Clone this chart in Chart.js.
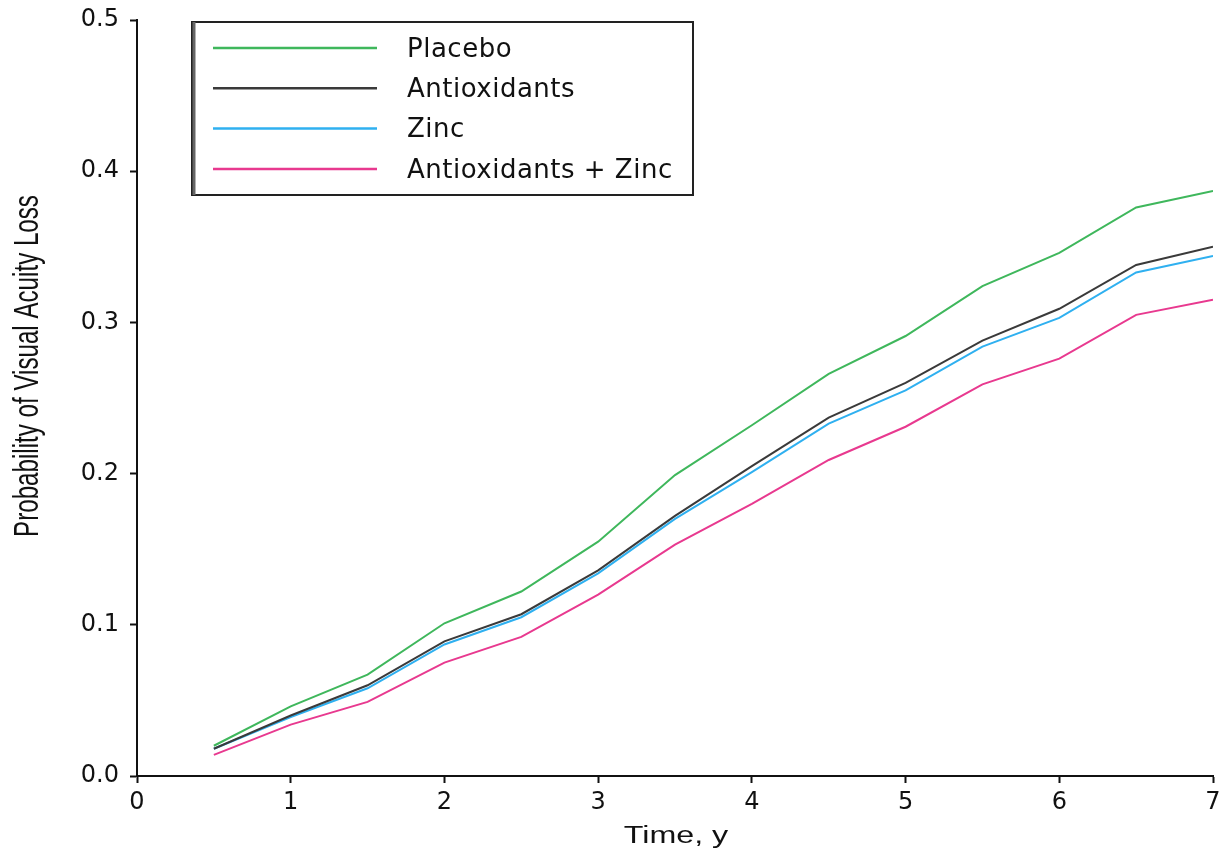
<!DOCTYPE html>
<html>
<head>
<meta charset="utf-8">
<script src="https://cdn.jsdelivr.net/npm/chart.js@4.4.1/dist/chart.umd.min.js"></script>
<style>
  html, body { margin: 0; padding: 0; background: #fff; }
  #wrap { width: 1223px; height: 856px; }
</style>
</head>
<body>
<div id="wrap"><canvas id="chart" width="1223" height="856"></canvas></div>
<script>
/* Probability of visual acuity loss by treatment group */

const years = [0.5, 1, 1.5, 2, 2.5, 3, 3.5, 4, 4.5, 5, 5.5, 6, 6.5, 7];

const placebo      = [0.020, 0.046, 0.067, 0.101, 0.122, 0.155, 0.199, 0.232, 0.266, 0.291, 0.324, 0.346, 0.376, 0.387];
const antioxidants = [0.018, 0.040, 0.060, 0.089, 0.107, 0.136, 0.172, 0.205, 0.237, 0.260, 0.288, 0.309, 0.338, 0.350];
const zinc         = [0.018, 0.039, 0.058, 0.087, 0.105, 0.134, 0.170, 0.201, 0.233, 0.255, 0.284, 0.303, 0.333, 0.344];
const antiZinc     = [0.014, 0.034, 0.049, 0.075, 0.092, 0.120, 0.153, 0.180, 0.209, 0.231, 0.259, 0.276, 0.305, 0.315];

const seriesNames = ["Placebo", "Antioxidants", "Zinc", "Antioxidants + Zinc"];
const seriesColors = ["#3fb75c", "#3a3a3a", "#2fb0f0", "#e8398f"];

const xTicks = [0, 1, 2, 3, 4, 5, 6, 7];
const yTicks = [0, 0.1, 0.2, 0.3, 0.4, 0.5];

const xTitle = "Time, y";
const yTitle = "Probability of Visual Acuity Loss";

const FONT = "'Liberation Sans', Arial, sans-serif";
const WIDE = "'DejaVu Sans', 'Liberation Sans', sans-serif";

const pts = (vals) => vals.map((v, i) => ({ x: years[i], y: v }));

// axis titles: the y title is tall and condensed, the x title stretched
const axisTitles = {
  id: "axisTitles",
  afterDraw(chart) {
    const ctx = chart.ctx;
    ctx.save();
    ctx.fillStyle = "#111";
    ctx.textAlign = "center";

    ctx.save();
    ctx.translate(28, 366);
    ctx.rotate(-Math.PI / 2);
    ctx.scale(0.69, 1);
    ctx.font = "35px " + FONT;
    ctx.textBaseline = "middle";
    ctx.fillText(yTitle, 0, 0);
    ctx.restore();

    ctx.save();
    ctx.translate(676, 843);
    ctx.scale(1.4, 1);
    ctx.font = "23px " + FONT;
    ctx.textBaseline = "alphabetic";
    ctx.fillText(xTitle, 0, 0);
    ctx.restore();

    ctx.restore();
  },
};

// legend drawn as a boxed panel inside the plot, top-left
const boxLegend = {
  id: "boxLegend",
  afterDraw(chart) {
    const ctx = chart.ctx;
    const x0 = 192, y0 = 22, x1 = 693, y1 = 195;
    ctx.save();
    ctx.fillStyle = "#fff";
    ctx.fillRect(x0, y0, x1 - x0, y1 - y0);
    ctx.strokeStyle = "#222";
    ctx.lineWidth = 2;
    ctx.strokeRect(x0, y0, x1 - x0, y1 - y0);
    ctx.strokeStyle = "#666";
    ctx.lineWidth = 3;
    ctx.beginPath();
    ctx.moveTo(x0 + 2, y0);
    ctx.lineTo(x0 + 2, y1);
    ctx.stroke();

    ctx.font = "26px " + WIDE;
    ctx.letterSpacing = "0.5px";
    ctx.textBaseline = "middle";
    chart.data.datasets.forEach((ds, i) => {
      const yy = 48 + i * 40.3;
      ctx.strokeStyle = ds.borderColor;
      ctx.lineWidth = 2.5;
      ctx.beginPath();
      ctx.moveTo(213, yy);
      ctx.lineTo(377, yy);
      ctx.stroke();
      ctx.fillStyle = "#111";
      ctx.fillText(ds.label, 407, yy + 2);
    });
    ctx.restore();
  },
};

new Chart(document.getElementById("chart"), {
  type: "line",
  data: {
    datasets: [placebo, antioxidants, zinc, antiZinc].map((vals, i) => ({
      label: seriesNames[i],
      data: pts(vals),
      borderColor: seriesColors[i],
      backgroundColor: seriesColors[i],
      borderWidth: 2,
      pointRadius: 0,
      tension: 0,
      fill: false,
    })),
  },
  options: {
    responsive: false,
    animation: false,
    layout: { padding: { top: 20, right: 10, left: 0, bottom: 0 } },
    plugins: { legend: { display: false }, tooltip: { enabled: false } },
    scales: {
      x: {
        type: "linear",
        min: 0,
        max: 7,
        afterBuildTicks: (s) => { s.ticks = xTicks.map((v) => ({ value: v })); },
        afterFit: (s) => { s.height = 80; s.paddingLeft = 0; s.paddingRight = 0; },
        border: { color: "#111", width: 2 },
        grid: { drawOnChartArea: false, drawTicks: true, tickLength: 7, color: "#111", tickWidth: 2 },
        ticks: { color: "#111", font: { family: WIDE, size: 24 }, padding: 5 },
      },
      y: {
        min: 0,
        max: 0.5,
        afterBuildTicks: (s) => { s.ticks = yTicks.map((v) => ({ value: v })); },
        afterFit: (s) => { s.width = 137; s.paddingTop = 0; s.paddingBottom = 0; },
        border: { color: "#111", width: 2 },
        grid: { drawOnChartArea: false, drawTicks: true, tickLength: 7, color: "#111", tickWidth: 2 },
        ticks: { color: "#111", font: { family: WIDE, size: 24 }, padding: 11, callback: (v) => v.toFixed(1) },
      },
    },
  },
  plugins: [axisTitles, boxLegend],
});
</script>
</body>
</html>
